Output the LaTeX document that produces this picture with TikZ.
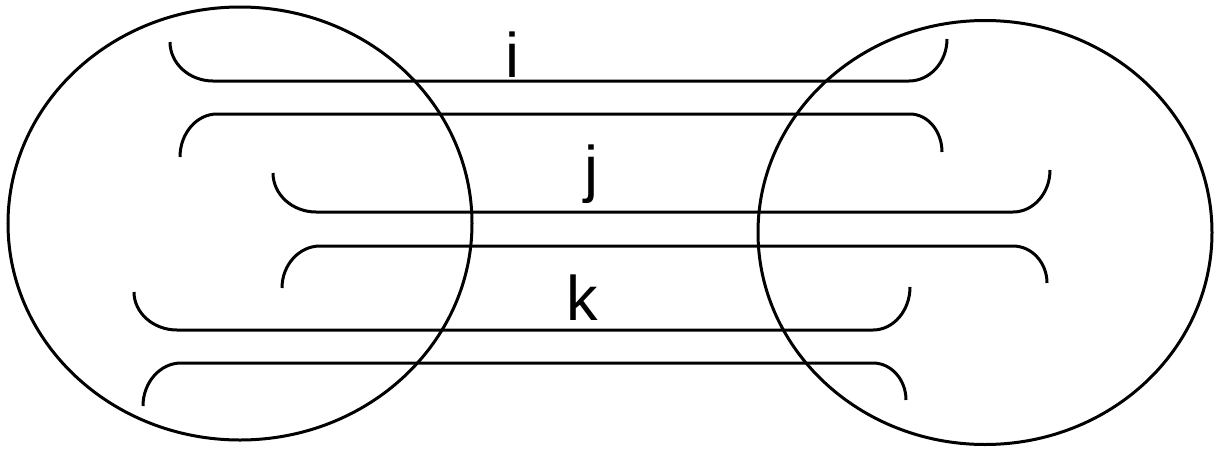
\documentclass[tikz,border=0pt]{standalone}
\usepackage{fontspec}
\setmainfont{Liberation Sans}
\begin{document}
\begin{tikzpicture}[x=1pt,y=-1pt,line width=3pt,
  lbl/.style={anchor=base,inner sep=0pt,font=\fontsize{63}{70}\selectfont},
  strand/.style={line width=3pt,line cap=butt}]
\useasboundingbox (0,0) rectangle (1216,453);
% circles
\coordinate (cl) at (240,223.5);
\coordinate (cr) at (985,232.5);
\draw (cl) ellipse [x radius=232pt, y radius=216.5pt];
\draw (cr) ellipse [x radius=227pt, y radius=212pt];
% strand i
\draw[strand] (170,42) .. controls +(0,21.5) and +(-23.6,0) .. (213,81) -- (909,81)
  .. controls +(20.9,0) and +(0,23.1) .. (947,39);
\draw[strand] (180,157) .. controls +(0,-23.6) and +(-20.4,0) .. (217,114) -- (910,114)
  .. controls +(17.6,0) and +(0,-20.9) .. (942,152);
% strand j
\draw[strand] (273,173) .. controls +(0,21.5) and +(-23.6,0) .. (316,212) -- (1013,212)
  .. controls +(20.4,0) and +(0,23.1) .. (1050,170);
\draw[strand] (282,288) .. controls +(0,-23.1) and +(-20.9,0) .. (320,246) -- (1013,246)
  .. controls +(18.7,0) and +(0,-20.4) .. (1047,283);
% strand k
\draw[strand] (134,292) .. controls +(0,20.9) and +(-23.6,0) .. (177,330) -- (873,330)
  .. controls +(20.4,0) and +(0,23.6) .. (910,287);
\draw[strand] (143,406) .. controls +(0,-23.6) and +(-20.9,0) .. (181,363) -- (873,363)
  .. controls +(18.2,0) and +(0,-20.4) .. (906,400);
% labels
\node[lbl] (li) at (512,77) {i};
\node[lbl] (lj) at (591,190) {j};
\node[lbl] (lk) at (582,320) {k};
\end{tikzpicture}
\end{document}
